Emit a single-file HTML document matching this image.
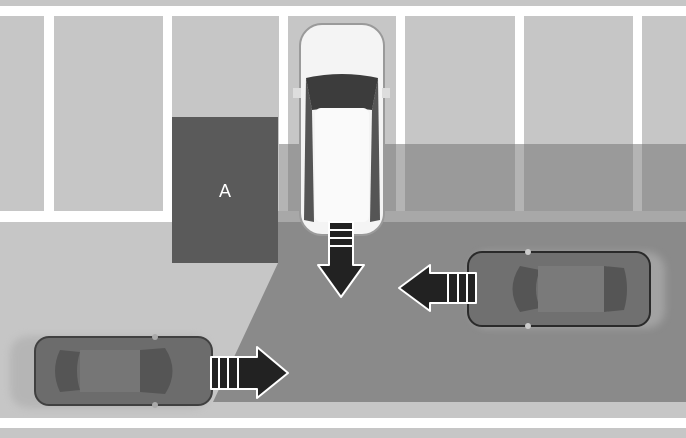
<!DOCTYPE html>
<html><head><meta charset="utf-8"><style>
html,body{margin:0;padding:0;background:#c6c6c6;}
svg{display:block;}
</style></head><body>
<svg width="686" height="438" viewBox="0 0 686 438" xmlns="http://www.w3.org/2000/svg">
<defs>
<filter id="blur" x="-20%" y="-20%" width="140%" height="140%"><feGaussianBlur stdDeviation="4"/></filter>
</defs>
<rect width="686" height="438" fill="#c6c6c6"/>
<rect x="0" y="6" width="686" height="10" fill="#fff"/>
<rect x="287" y="144" width="399" height="67" fill="#9a9a9a"/>
<polygon points="278,222 686,222 686,402 213,402 278,263" fill="#8a8a8a"/>
<rect x="278" y="211" width="408" height="11" fill="#a8a8a8"/>
<g fill="#fff">
<rect x="44" y="16" width="10" height="195"/>
<rect x="163" y="16" width="9" height="195"/>
<rect x="279" y="16" width="9" height="128"/>
<rect x="396" y="16" width="9" height="128"/>
<rect x="515" y="16" width="9" height="128"/>
<rect x="633" y="16" width="9" height="128"/>
<rect x="0" y="211" width="278" height="11"/>
</g>
<g fill="#b4b4b4">
<rect x="279" y="144" width="9" height="67"/>
<rect x="396" y="144" width="9" height="67"/>
<rect x="515" y="144" width="9" height="67"/>
<rect x="633" y="144" width="9" height="67"/>
</g>
<rect x="0" y="418" width="686" height="10" fill="#fff"/>
<rect x="172" y="117" width="106" height="146" fill="#5a5a5a"/>
<text x="225" y="197" font-family="Liberation Sans, sans-serif" font-size="18" fill="#fff" text-anchor="middle">A</text>

<g>
<rect x="300" y="24" width="84" height="211" rx="22" fill="#f4f4f4" stroke="#9a9a9a" stroke-width="2"/>
<rect x="293" y="88" width="8" height="10" fill="#ddd"/>
<rect x="382" y="88" width="8" height="10" fill="#ddd"/>
<path d="M306,78 Q342,70 378,78 L372,110 Q342,106 312,110 Z" fill="#3c3c3c"/>
<path d="M306,78 L312,110 L314,222 L304,220 Z" fill="#555"/>
<path d="M378,78 L372,110 L370,222 L380,220 Z" fill="#555"/>
<rect x="315" y="108" width="54" height="114" rx="6" fill="#fafafa"/>
</g>

<g>
<rect x="470" y="252" width="195" height="76" rx="18" fill="#bbb" opacity="0.5" filter="url(#blur)"/>
<rect x="468" y="252" width="182" height="74" rx="14" fill="#707070" stroke="#2a2a2a" stroke-width="2"/>
<path d="M520,266 Q505,289 520,312 L540,308 Q532,289 540,270 Z" fill="#555"/>
<rect x="538" y="266" width="70" height="46" fill="#7a7a7a"/>
<path d="M604,266 L624,268 Q630,289 624,310 L604,312 Z" fill="#555"/>
<circle cx="528" cy="252" r="3" fill="#ccc"/>
<circle cx="528" cy="326" r="3" fill="#ccc"/>
</g>

<g>
<rect x="10" y="336" width="200" height="72" rx="18" fill="#aaa" opacity="0.6" filter="url(#blur)"/>
<rect x="35" y="337" width="177" height="68" rx="14" fill="#6c6c6c" stroke="#404040" stroke-width="2"/>
<path d="M60,350 Q50,371 60,392 L80,390 Q74,371 80,352 Z" fill="#555"/>
<rect x="80" y="350" width="60" height="42" fill="#767676"/>
<path d="M140,350 L165,348 Q180,371 165,394 L140,392 Z" fill="#555"/>
<circle cx="155" cy="337" r="3" fill="#aaa"/>
<circle cx="155" cy="405" r="3" fill="#aaa"/>
</g>

<g stroke="#fff" stroke-width="2" stroke-linejoin="round">
<polygon points="329,222 353,222 353,265 364,265 341,297 318,265 329,265" fill="#222"/>
<line x1="329" y1="230" x2="353" y2="230"/>
<line x1="329" y1="238" x2="353" y2="238"/>
<line x1="329" y1="246" x2="353" y2="246"/>
<polygon points="476,273 476,303 430,303 430,311 399,288 430,265 430,273" fill="#222"/>
<line x1="448" y1="273" x2="448" y2="303"/>
<line x1="458" y1="273" x2="458" y2="303"/>
<line x1="467" y1="273" x2="467" y2="303"/>
<polygon points="211,357 257,357 257,347 288,373 257,398 257,389 211,389" fill="#222"/>
<line x1="219" y1="357" x2="219" y2="389"/>
<line x1="228" y1="357" x2="228" y2="389"/>
<line x1="238" y1="357" x2="238" y2="389"/>
</g>
</svg>
</body></html>
